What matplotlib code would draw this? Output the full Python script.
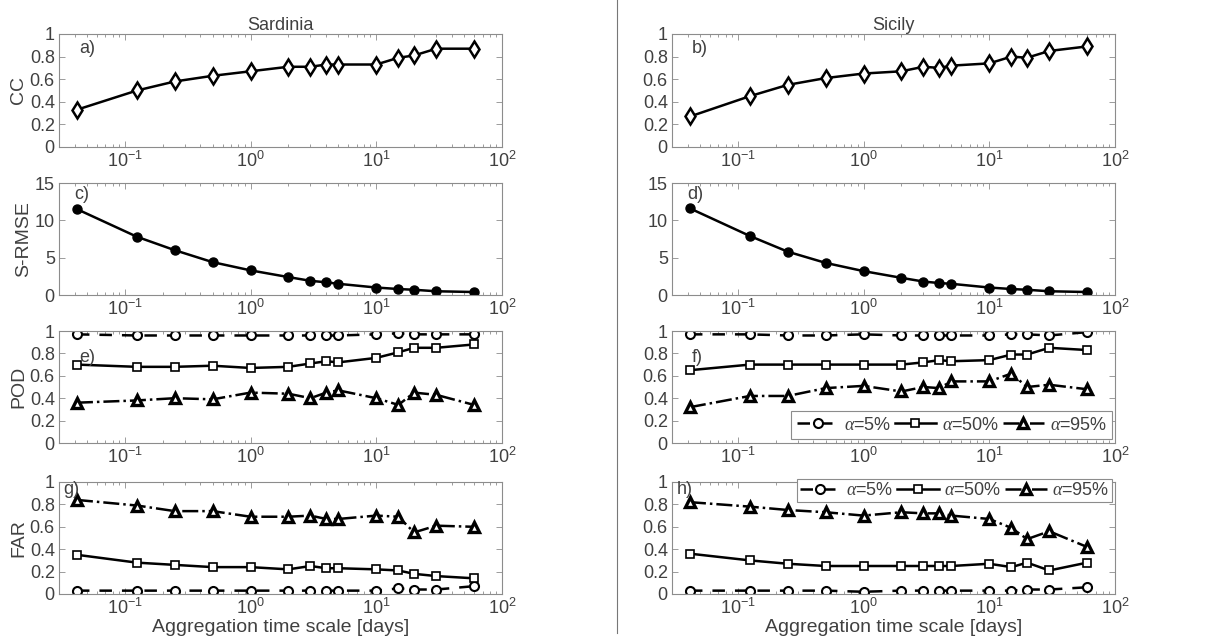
import numpy as np
import matplotlib
matplotlib.use("Agg")
import matplotlib.pyplot as plt
from matplotlib.ticker import LogLocator, NullFormatter

plt.rcParams['font.family'] = ['Liberation Sans', 'DejaVu Sans']
plt.rcParams['mathtext.fontset'] = 'custom'
plt.rcParams['mathtext.rm'] = 'Liberation Sans'
plt.rcParams['mathtext.it'] = 'Liberation Serif:italic'

# aggregation time scales [days]
scales = [1/24, 3/24, 6/24, 12/24, 1, 2, 3, 4, 5, 10, 15, 20, 30, 60]

# Sardinia
cc_sar = [0.33, 0.50, 0.58, 0.63, 0.67, 0.71, 0.71, 0.73, 0.73, 0.73, 0.79, 0.81, 0.87, 0.87]
rmse_sar = [11.5, 7.8, 6.0, 4.4, 3.3, 2.4, 1.9, 1.7, 1.5, 1.0, 0.8, 0.7, 0.5, 0.4]
pod5_sar = [0.97, 0.96, 0.96, 0.96, 0.96, 0.96, 0.96, 0.96, 0.96, 0.97, 0.98, 0.97, 0.97, 0.97]
pod50_sar = [0.70, 0.68, 0.68, 0.69, 0.67, 0.68, 0.71, 0.73, 0.72, 0.76, 0.81, 0.85, 0.85, 0.88]
pod95_sar = [0.36, 0.38, 0.40, 0.39, 0.45, 0.44, 0.40, 0.45, 0.47, 0.40, 0.34, 0.45, 0.43, 0.34]
far5_sar = [0.03, 0.03, 0.03, 0.03, 0.03, 0.03, 0.03, 0.03, 0.03, 0.03, 0.05, 0.04, 0.04, 0.07]
far50_sar = [0.35, 0.28, 0.26, 0.24, 0.24, 0.22, 0.25, 0.23, 0.23, 0.22, 0.21, 0.18, 0.16, 0.14]
far95_sar = [0.84, 0.79, 0.74, 0.74, 0.69, 0.69, 0.70, 0.67, 0.67, 0.70, 0.69, 0.55, 0.61, 0.60]

# Sicily
cc_sic = [0.27, 0.45, 0.55, 0.61, 0.65, 0.67, 0.71, 0.70, 0.72, 0.74, 0.80, 0.79, 0.85, 0.89]
rmse_sic = [11.6, 7.9, 5.8, 4.3, 3.2, 2.3, 1.8, 1.6, 1.5, 1.0, 0.8, 0.7, 0.5, 0.4]
pod5_sic = [0.97, 0.97, 0.96, 0.96, 0.97, 0.96, 0.96, 0.96, 0.96, 0.96, 0.97, 0.97, 0.96, 0.99]
pod50_sic = [0.65, 0.70, 0.70, 0.70, 0.70, 0.70, 0.72, 0.74, 0.73, 0.74, 0.79, 0.79, 0.85, 0.83]
pod95_sic = [0.32, 0.42, 0.42, 0.49, 0.51, 0.46, 0.50, 0.49, 0.55, 0.55, 0.62, 0.50, 0.52, 0.48]
far5_sic = [0.03, 0.03, 0.03, 0.03, 0.02, 0.03, 0.03, 0.03, 0.03, 0.03, 0.03, 0.04, 0.04, 0.06]
far50_sic = [0.36, 0.30, 0.27, 0.25, 0.25, 0.25, 0.25, 0.25, 0.25, 0.27, 0.24, 0.28, 0.21, 0.28]
far95_sic = [0.82, 0.78, 0.75, 0.73, 0.70, 0.73, 0.72, 0.72, 0.70, 0.67, 0.59, 0.49, 0.56, 0.42]

txt = '#404040'
spine = '#8c8c8c'
fs = 13

fig = plt.figure(figsize=(12.2, 6.43), dpi=100)
W, H = 1220, 643
lefts = [59, 672]
rows = [(34, 147), (183, 295), (331, 443), (482, 594)]

def make_ax(col, row):
    l = lefts[col]
    t, b = rows[row]
    ax = fig.add_axes([l / W, 1 - b / H, 443 / W, (b - t) / H])
    ax.set_xscale('log')
    ax.set_xlim(0.03, 100)
    ax.xaxis.set_major_locator(LogLocator(base=10, numticks=10))
    ax.xaxis.set_minor_locator(LogLocator(base=10, subs=np.arange(2, 10), numticks=10))
    ax.xaxis.set_minor_formatter(NullFormatter())
    ax.tick_params(which='both', direction='in', top=True, right=True,
                   colors=spine, labelcolor=txt, labelsize=fs, width=0.6)
    ax.tick_params(which='major', length=4)
    ax.tick_params(which='minor', length=2)
    ax.tick_params(axis='x', which='major', pad=3)
    ax.tick_params(axis='y', which='major', pad=3)
    for s in ax.spines.values():
        s.set_color(spine)
        s.set_linewidth(0.8)
    return ax

lw = 1.8
site_data = [
    (cc_sar, rmse_sar, (pod5_sar, pod50_sar, pod95_sar), (far5_sar, far50_sar, far95_sar)),
    (cc_sic, rmse_sic, (pod5_sic, pod50_sic, pod95_sic), (far5_sic, far50_sic, far95_sic)),
]
letters = [['a)', 'c)', 'e)', 'g)'], ['b)', 'd)', 'f)', 'h)']]

for col, (cc, rmse, pod, far) in enumerate(site_data):
    ax = make_ax(col, 0)
    ax.plot(scales, cc, '-', color='black', lw=lw, marker='d', ms=8,
            mfc='white', mec='black', mew=1.8)
    ax.set_ylim(0, 1)
    ax.set_yticks([0, 0.2, 0.4, 0.6, 0.8, 1])
    ax.set_yticklabels(['0', '0.2', '0.4', '0.6', '0.8', '1'])
    ax.text(0.045, 0.87, letters[col][0], transform=ax.transAxes, fontsize=fs,
            color=txt, va='center')
    ax.set_title(['Sardinia', 'Sicily'][col], fontsize=fs, color=txt, pad=3)
    if col == 0:
        ax.set_ylabel('CC', fontsize=14, color=txt, labelpad=2)

    ax = make_ax(col, 1)
    ax.plot(scales, rmse, '-', color='black', lw=lw, marker='o', ms=6.5,
            mfc='black', mec='black')
    ax.set_ylim(0, 15)
    ax.set_yticks([0, 5, 10, 15])
    ax.text(0.035, 0.9, letters[col][1], transform=ax.transAxes, fontsize=fs,
            color=txt, va='center')
    if col == 0:
        ax.set_ylabel('S-RMSE', fontsize=14, color=txt, labelpad=2)

    for r, vals, name in [(2, pod, 'POD'), (3, far, 'FAR')]:
        ax = make_ax(col, r)
        h5, = ax.plot(scales, vals[0], '--', color='black', lw=lw, marker='o', ms=6.5,
                      mfc='white', mec='black', mew=1.5, dashes=(5, 4))
        h50, = ax.plot(scales, vals[1], '-', color='black', lw=lw, marker='s', ms=6,
                       mfc='white', mec='black', mew=1.2)
        h95, = ax.plot(scales, vals[2], '-.', color='black', lw=lw, marker='^', ms=7.5,
                       mfc='white', mec='black', mew=2.4)
        ax.set_ylim(0, 1)
        ax.set_yticks([0, 0.2, 0.4, 0.6, 0.8, 1])
        ax.set_yticklabels(['0', '0.2', '0.4', '0.6', '0.8', '1'])
        if r == 2:
            ax.text(0.045, 0.76, letters[col][r], transform=ax.transAxes, fontsize=fs,
                    color=txt, va='center')
        else:
            ax.text(0.01, 0.93, letters[col][r], transform=ax.transAxes, fontsize=fs,
                    color=txt, va='center')
        if col == 0:
            ax.set_ylabel(name, fontsize=14, color=txt, labelpad=2)
        if r == 3:
            ax.set_xlabel('Aggregation time scale [days]', fontsize=14, color=txt, labelpad=0.5)
        if col == 1:
            labels = [r'$\alpha$=5%', r'$\alpha$=50%', r'$\alpha$=95%']
            if r == 2:
                leg = ax.legend([h5, h50, h95], labels, loc='lower right',
                                bbox_to_anchor=(0.994, 0.035), borderaxespad=0, ncol=3,
                                fontsize=fs, handlelength=2.3, handletextpad=0.3,
                                columnspacing=0.2, fancybox=False, framealpha=1,
                                borderpad=0.3)
            else:
                leg = ax.legend([h5, h50, h95], labels, loc='upper right',
                                bbox_to_anchor=(0.994, 1.025), borderaxespad=0, ncol=3,
                                fontsize=fs, handlelength=2.3, handletextpad=0.3,
                                columnspacing=0.2, fancybox=False, framealpha=1,
                                borderpad=0.15)
            leg.get_frame().set_edgecolor(spine)
            leg.get_frame().set_linewidth(0.8)
            for t in leg.get_texts():
                t.set_color(txt)

# vertical separator between the two islands
fig.add_artist(plt.Line2D([617 / W, 617 / W], [1 - 633 / H, 1.0],
                          transform=fig.transFigure, color='#777777', lw=0.8))

fig.savefig('out.png', dpi=100)
